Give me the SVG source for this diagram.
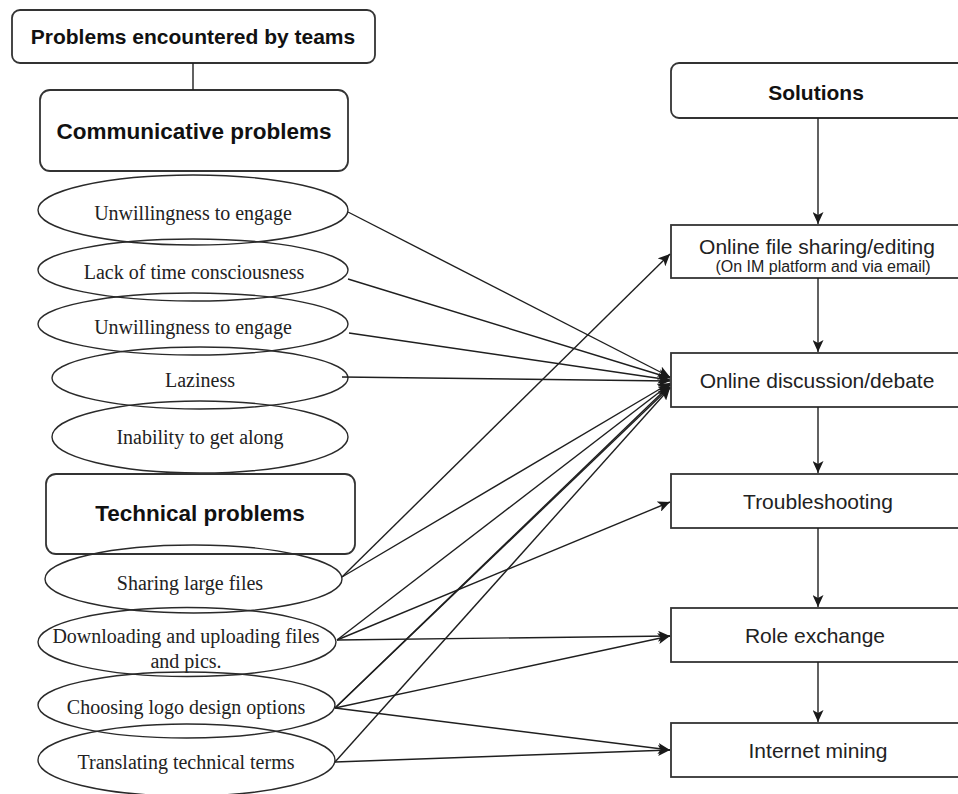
<svg xmlns="http://www.w3.org/2000/svg" width="958" height="794" viewBox="0 0 958 794">
<defs>
<marker id="arr" markerUnits="userSpaceOnUse" markerWidth="13" markerHeight="11" refX="12" refY="5.5" orient="auto">
<path d="M0,0 L12,5.5 L0,11 L3,5.5 z" fill="#1a1a1a"/>
</marker>
<style>
.box{fill:#fff;stroke:#333;stroke-width:1.8}
.ell{fill:none;stroke:#2a2a2a;stroke-width:1.4}
.hd{font-family:"Liberation Sans",Arial,sans-serif;font-weight:bold;fill:#111;text-anchor:middle}
.sol{font-family:"Liberation Sans",Arial,sans-serif;font-size:21px;fill:#222;text-anchor:middle}
.sub{font-family:"Liberation Sans",Arial,sans-serif;font-size:16px;fill:#222;text-anchor:middle}
.et{font-family:"Liberation Serif","Times New Roman",serif;font-size:20px;fill:#222;text-anchor:middle}
.ln{fill:none;stroke:#1f1f1f;stroke-width:1.4}
.ar{fill:none;stroke:#1f1f1f;stroke-width:1.4;marker-end:url(#arr)}
</style>
</defs>
<rect width="958" height="794" fill="#fff"/>

<g id="problems">
<rect class="box" x="12" y="10" width="363" height="53" rx="8"/>
<text class="hd" x="193" y="44" font-size="21">Problems encountered by teams</text>
</g>
<g id="communicative">
<rect class="box" x="40" y="90" width="308" height="81" rx="10"/>
<text class="hd" x="194" y="139" font-size="22.5">Communicative problems</text>
</g>
<g id="c1">
<ellipse class="ell" cx="193" cy="210" rx="155" ry="35"/>
<text class="et" x="193" y="220">Unwillingness to engage</text>
</g>
<g id="c2">
<ellipse class="ell" cx="193" cy="270" rx="155" ry="31"/>
<text class="et" x="194" y="279">Lack of time consciousness</text>
</g>
<g id="c3">
<ellipse class="ell" cx="193" cy="324" rx="155" ry="31"/>
<text class="et" x="193" y="334">Unwillingness to engage</text>
</g>
<g id="c4">
<ellipse class="ell" cx="200" cy="378" rx="148" ry="31"/>
<text class="et" x="200" y="387">Laziness</text>
</g>
<g id="c5">
<ellipse class="ell" cx="200" cy="437" rx="148" ry="36"/>
<text class="et" x="200" y="444">Inability to get along</text>
</g>
<g id="technical">
<rect class="box" x="46" y="474" width="309" height="80" rx="10"/>
<text class="hd" x="200" y="521" font-size="22.5">Technical problems</text>
</g>
<g id="t1">
<ellipse class="ell" cx="193.5" cy="579" rx="148.5" ry="34"/>
<text class="et" x="190" y="590">Sharing large files</text>
</g>
<g id="t2">
<ellipse class="ell" cx="187" cy="642" rx="149" ry="34.5"/>
<text class="et" x="186" y="643">Downloading and uploading files</text>
<text class="et" x="186" y="668">and pics.</text>
</g>
<g id="t3">
<ellipse class="ell" cx="186.5" cy="705" rx="148.5" ry="33"/>
<text class="et" x="186" y="714">Choosing logo design options</text>
</g>
<g id="t4">
<ellipse class="ell" cx="186.5" cy="760" rx="148.5" ry="36"/>
<text class="et" x="186" y="769">Translating technical terms</text>
</g>

<g id="solutions">
<rect class="box" x="671" y="63" width="296" height="55" rx="8"/>
<text class="hd" x="816" y="100" font-size="21">Solutions</text>
</g>
<g id="s1">
<rect class="box" x="671" y="225" width="296" height="53"/>
<text class="sol" x="817" y="254">Online file sharing/editing</text>
<text class="sub" x="823" y="272">(On IM platform and via email)</text>
</g>
<g id="s2">
<rect class="box" x="671" y="353" width="296" height="54"/>
<text class="sol" x="817" y="388">Online discussion/debate</text>
</g>
<g id="s3">
<rect class="box" x="671" y="474" width="296" height="54"/>
<text class="sol" x="818" y="509">Troubleshooting</text>
</g>
<g id="s4">
<rect class="box" x="671" y="608" width="296" height="54"/>
<text class="sol" x="815" y="643">Role exchange</text>
</g>
<g id="s5">
<rect class="box" x="671" y="723" width="296" height="54"/>
<text class="sol" x="818" y="758">Internet mining</text>
</g>

<g id="connectors">
<line class="ln" x1="193" y1="63" x2="193" y2="90"/>
<line class="ar" x1="818" y1="118" x2="818" y2="224"/>
<line class="ar" x1="818" y1="278" x2="818" y2="352"/>
<line class="ar" x1="818" y1="407" x2="818" y2="473"/>
<line class="ar" x1="818" y1="528" x2="818" y2="607"/>
<line class="ar" x1="818" y1="662" x2="818" y2="722"/>

<line class="ar" x1="348" y1="212" x2="670" y2="377"/>
<line class="ar" x1="348" y1="279" x2="670" y2="378"/>
<line class="ar" x1="349" y1="333" x2="670" y2="380"/>
<line class="ar" x1="342" y1="377" x2="670" y2="381"/>
<line class="ar" x1="342" y1="577" x2="670" y2="254"/>
<line class="ar" x1="342" y1="577" x2="670" y2="383"/>
<line class="ar" x1="337" y1="640" x2="670" y2="384"/>
<line class="ar" x1="337" y1="640" x2="670" y2="502"/>
<line class="ar" x1="337" y1="640" x2="670" y2="636"/>
<line class="ar" x1="335" y1="708" x2="670" y2="385"/>
<line class="ar" x1="335" y1="708" x2="670" y2="387"/>
<line class="ar" x1="335" y1="708" x2="670" y2="636"/>
<line class="ar" x1="335" y1="708" x2="670" y2="750"/>
<line class="ar" x1="335" y1="762" x2="670" y2="388"/>
<line class="ar" x1="335" y1="762" x2="670" y2="750"/>
</g>
</svg>
